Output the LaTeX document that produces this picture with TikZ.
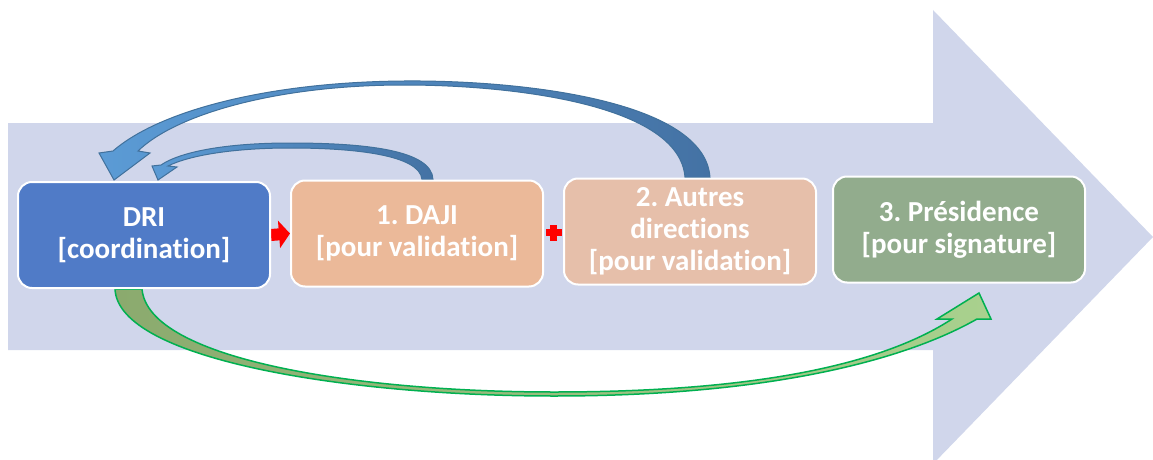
\documentclass[tikz,border=0pt]{standalone}
\usepackage{fontspec}
\setmainfont{Carlito}[Ligatures=NoCommon]
\usetikzlibrary{positioning,calc,arrows.meta,backgrounds}
\definecolor{bgarrow}{RGB}{208,214,235}
\definecolor{dribox}{RGB}{80,123,199}
\definecolor{dajibox}{RGB}{235,185,153}
\definecolor{autresbox}{RGB}{230,191,170}
\definecolor{presbox}{RGB}{146,172,141}
\definecolor{bluelight}{RGB}{91,155,213}
\definecolor{bluedark}{RGB}{68,114,164}
\definecolor{blueline}{RGB}{65,113,156}
\definecolor{greendark}{RGB}{139,170,110}
\definecolor{greenlight}{RGB}{169,209,142}
\definecolor{greenline}{RGB}{0,176,80}

\begin{document}
\begin{tikzpicture}[x=1pt, y=-1pt, node distance=273pt, on grid,
box/.style={draw=white, line width=2pt, rounded corners=14pt,
minimum width=252pt, minimum height=106pt, inner sep=2pt, align=center,
text=white, font=\fontsize{29}{32}\selectfont\bfseries\frenchspacing}]
\useasboundingbox (0,0) rectangle (1153,460);

\node [box, fill=dribox] (dri) at (144,235) {DRI\\{[coordination]}};
\node [box, fill=dajibox, right=of dri, yshift=1.5pt] (daji) {1. DAJI\\{[pour validation]}};
\node [box, fill=autresbox, right=of daji, yshift=2pt] (autres) {2. Autres\\directions\\{[pour validation]}};
\node [box, fill=presbox, right=269pt of autres, yshift=2pt] (pres) {3. Présidence\\{[pour signature]}};

\begin{scope}[on background layer]
% big arrow behind everything
\fill [bgarrow] (8,123) -- (933,123) -- (933,10) -- (1153,237) -- (933,464) -- (933,350) -- (8,350) -- cycle;

\draw [red, line width=12pt, -{Triangle[length=11pt, width=27pt]}] (dri.east) -- (daji.west);
\coordinate (plus) at ($(daji.east)!0.5!(autres.west)$);
\fill [red] ($(plus)+(-8,-3.5)$) rectangle ($(plus)+(8,3.5)$);
\fill [red] ($(plus)+(-3.5,-8)$) rectangle ($(plus)+(3.5,8)$);

% back to DRI
\shadedraw [left color=bluelight, right color=bluedark, draw=blueline, line width=1pt]
([xshift=20pt]autres.north) .. controls (705,100) and (520,80) .. (404,81)
.. controls (270,82) and (160,110) .. (113,151) -- (99,153) -- (114,180) -- (150,153) -- (138,151)
.. controls (175,115) and (275,85) .. (404,85)
.. controls (515,85) and (680,105) .. ([xshift=-5pt]autres.north) -- cycle;
\shadedraw [left color=bluelight, right color=bluedark, draw=blueline, line width=1pt]
([xshift=16pt]daji.north) .. controls (432,150) and (365,143) .. (290,143)
.. controls (225,143) and (180,152) .. (161,165) -- (152,166) -- (158,180) -- (177,167) -- (168,166)
.. controls (190,155) and (235,148) .. (290,148)
.. controls (355,148) and (420,155) .. ([xshift=5pt]daji.north) -- cycle;

% DRI to Presidence
\shadedraw [left color=greendark, right color=greenlight, draw=greenline, line width=1.5pt]
([xshift=-29pt]dri.south) .. controls (118,360) and (350,396) .. (554,396)
.. controls (770,396) and (905,360) .. (977,319) -- (991,319) -- (979,293) -- (937,319) -- (952,319)
.. controls (880,366) and (750,392) .. (554,392)
.. controls (360,392) and (148,360) .. ([xshift=-2pt]dri.south) -- cycle;
\end{scope}
\end{tikzpicture}
\end{document}
